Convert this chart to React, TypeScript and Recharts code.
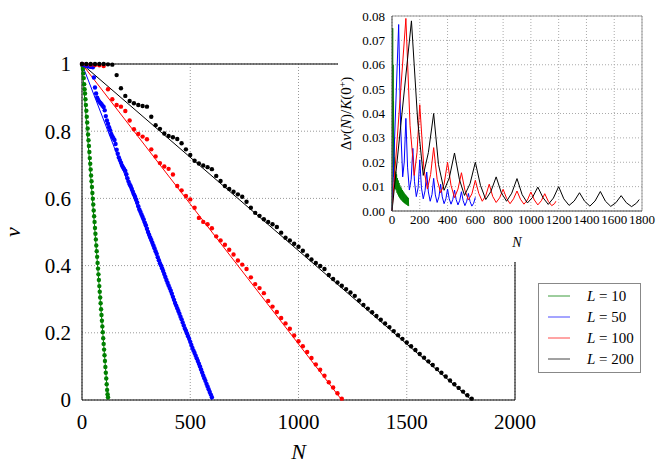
import React from 'react';
import {
  ComposedChart,
  LineChart,
  Line,
  Scatter,
  XAxis,
  YAxis,
  CartesianGrid,
  ReferenceLine,
  Legend,
  Label,
} from 'recharts';

const FONT = "'Liberation Serif', 'Times New Roman', serif";

// ---- main plot ----
const mainXTicks = [0, 500, 1000, 1500, 2000];
const mainYTicks = [0, 0.2, 0.4, 0.6, 0.8, 1];

const seriesL = [10, 50, 100, 200];
const seriesColor = ['#008000', '#0000ff', '#ff0000', '#000000'];
const legendColor = ['#3c9c3c', '#4a4aff', '#ff4a4a', '#444444'];
// N at which the fitted straight line reaches v = 0
const fitEnd = [120, 600, 1200, 1800];

// measured points, sampled every `step` in N starting at N = 0
const greenStep = 2;
const greenDots = [
  1.0, 0.995, 0.985, 0.972, 0.958, 0.94, 0.925, 0.912, 0.895, 0.878, 0.861, 0.843, 0.826, 0.808, 0.79,
  0.773, 0.756, 0.738, 0.72, 0.703, 0.686, 0.668, 0.651, 0.634, 0.616, 0.599, 0.582, 0.564, 0.547, 0.53,
  0.512, 0.495, 0.478, 0.46, 0.443, 0.426, 0.408, 0.391, 0.374, 0.357, 0.339, 0.322, 0.305, 0.288, 0.27,
  0.253, 0.236, 0.219, 0.202, 0.184, 0.167, 0.15, 0.133, 0.116, 0.098, 0.081, 0.064, 0.047, 0.03, 0.017,
  0.008,
];

const blueStep = 5;
const blueDots = [
  1.0, 0.998, 0.997, 0.996, 0.995, 0.994, 0.993, 0.993, 0.992, 0.992, 0.99, 0.96, 0.93, 0.912, 0.9,
  0.893, 0.888, 0.884, 0.88, 0.876, 0.872, 0.862, 0.845, 0.832, 0.822, 0.812, 0.803, 0.792, 0.785, 0.779,
  0.774, 0.762, 0.745, 0.733, 0.722, 0.714, 0.706, 0.698, 0.692, 0.687, 0.682, 0.672, 0.66, 0.65, 0.642,
  0.636, 0.628, 0.62, 0.612, 0.605, 0.597, 0.588, 0.577, 0.567, 0.56, 0.552, 0.545, 0.537, 0.528, 0.52,
  0.51, 0.5, 0.492, 0.484, 0.476, 0.468, 0.46, 0.452, 0.443, 0.435, 0.425, 0.416, 0.407, 0.4, 0.392,
  0.384, 0.375, 0.366, 0.357, 0.349, 0.341, 0.333, 0.325, 0.316, 0.307, 0.298, 0.289, 0.281, 0.273, 0.265,
  0.257, 0.248, 0.24, 0.231, 0.222, 0.213, 0.206, 0.198, 0.19, 0.182, 0.173, 0.164, 0.155, 0.147, 0.14,
  0.132, 0.124, 0.116, 0.108, 0.1, 0.091, 0.082, 0.073, 0.065, 0.057, 0.048, 0.04, 0.032, 0.024, 0.016,
  0.008,
];

const redStep = 20;
const redDots = [
  1.0, 0.999, 0.998, 0.997, 0.996, 0.994, 0.925, 0.895, 0.878, 0.873, 0.86, 0.832, 0.806, 0.792, 0.784,
  0.776, 0.746, 0.725, 0.705, 0.695, 0.688, 0.671, 0.637, 0.624, 0.607, 0.597, 0.572, 0.542, 0.53, 0.523,
  0.511, 0.487, 0.475, 0.462, 0.447, 0.433, 0.415, 0.403, 0.39, 0.365, 0.345, 0.333, 0.318, 0.295, 0.278,
  0.262, 0.244, 0.228, 0.212, 0.192, 0.175, 0.16, 0.143, 0.125, 0.106, 0.09, 0.072, 0.053, 0.037, 0.02,
  0.004,
];

const blackStep = 20;
const blackDots = [
  1.0, 1.0, 1.0, 1.0, 1.0, 1.0, 0.999, 0.998, 0.967, 0.928, 0.905, 0.89, 0.883, 0.878, 0.875,
  0.873, 0.843, 0.818, 0.807, 0.793, 0.786, 0.782, 0.777, 0.764, 0.746, 0.729, 0.712, 0.704, 0.698, 0.693,
  0.687, 0.667, 0.652, 0.637, 0.628, 0.62, 0.612, 0.605, 0.59, 0.572, 0.557, 0.548, 0.538, 0.53, 0.523,
  0.515, 0.498, 0.483, 0.475, 0.465, 0.456, 0.444, 0.43, 0.418, 0.408, 0.399, 0.39, 0.372, 0.36, 0.35,
  0.34, 0.33, 0.32, 0.31, 0.296, 0.283, 0.272, 0.261, 0.25, 0.239, 0.228, 0.217, 0.205, 0.193, 0.182,
  0.171, 0.16, 0.149, 0.137, 0.126, 0.115, 0.104, 0.092, 0.081, 0.07, 0.058, 0.047, 0.036, 0.025, 0.014,
  0.004,
];

// ---- inset: [N, Δν/K] ----
const insetXTicks = [0, 200, 400, 600, 800, 1000, 1200, 1400, 1600, 1800];
const insetYTicks = [0, 0.01, 0.02, 0.03, 0.04, 0.05, 0.06, 0.07, 0.08];

const insetGreen = [
  [0, 0], [5, 0.075], [7, 0.03], [8, 0.06], [10, 0.018], [11, 0.045], [13, 0.014], [14, 0.03], [16, 0.012],
  [17, 0.022], [19, 0.01], [21, 0.0165], [24, 0.009], [27, 0.016], [30, 0.0085], [33, 0.015], [36, 0.0075],
  [39, 0.0135], [42, 0.0068], [45, 0.0125], [48, 0.006], [51, 0.0115], [54, 0.0055], [57, 0.0105], [60, 0.005],
  [63, 0.0098], [66, 0.0045], [69, 0.0092], [72, 0.0042], [75, 0.0086], [78, 0.0038], [81, 0.008], [84, 0.0035],
  [87, 0.0075], [90, 0.0032], [93, 0.007], [96, 0.003], [99, 0.0066], [102, 0.0027], [105, 0.0062],
  [108, 0.0025], [111, 0.0058], [114, 0.0022], [117, 0.0054], [120, 0.002],
];

const insetBlue = [
  [0, 0], [48, 0.0765],
  [62, 0.035], [77, 0.014], [88, 0.02], [100, 0.038],
  [112, 0.018], [125, 0.0086], [138, 0.013], [150, 0.0257],
  [162, 0.012], [175, 0.0059], [188, 0.0095], [200, 0.021],
  [212, 0.0095], [225, 0.005], [238, 0.0083], [250, 0.016],
  [262, 0.0078], [275, 0.004], [288, 0.0068], [300, 0.0134],
  [312, 0.0066], [325, 0.0035], [338, 0.0058], [350, 0.011],
  [362, 0.0058], [375, 0.003], [388, 0.005], [400, 0.009],
  [412, 0.005], [425, 0.0028], [438, 0.0048], [450, 0.0086],
  [462, 0.0047], [475, 0.0025], [488, 0.0044], [500, 0.0079],
  [512, 0.0043], [525, 0.0022], [538, 0.004], [550, 0.0072],
  [562, 0.0039], [575, 0.002], [588, 0.0032], [600, 0.0056],
];

const insetRed = [
  [0, 0], [100, 0.079],
  [130, 0.035], [160, 0.0146], [180, 0.024], [200, 0.0436],
  [230, 0.017], [255, 0.009], [278, 0.015], [300, 0.026],
  [325, 0.013], [350, 0.0075], [375, 0.011], [400, 0.02],
  [425, 0.0105], [450, 0.0055], [475, 0.009], [500, 0.0157],
  [525, 0.0085], [550, 0.0045], [575, 0.007], [600, 0.0126],
  [625, 0.0072], [650, 0.004], [675, 0.0063], [700, 0.011],
  [725, 0.006], [750, 0.0035], [775, 0.0054], [800, 0.0089],
  [825, 0.0052], [850, 0.003], [875, 0.005], [900, 0.0082],
  [925, 0.0048], [950, 0.0028], [975, 0.0045], [1000, 0.0078],
  [1025, 0.0045], [1050, 0.0025], [1075, 0.0042], [1100, 0.0071],
  [1125, 0.004], [1150, 0.0022], [1170, 0.003], [1180, 0.004],
];

const insetBlack = [
  [0, 0], [140, 0.078],
  [185, 0.037], [225, 0.0146], [262, 0.024], [300, 0.04],
  [335, 0.019], [375, 0.0085], [412, 0.0135], [450, 0.0238],
  [485, 0.013], [522, 0.0064], [562, 0.0112], [600, 0.02],
  [637, 0.0105], [675, 0.0047], [712, 0.008], [750, 0.014],
  [787, 0.0075], [825, 0.004], [862, 0.0073], [900, 0.0133],
  [937, 0.0067], [975, 0.0033], [1012, 0.0056], [1050, 0.0098],
  [1087, 0.0055], [1125, 0.0027], [1162, 0.0053], [1200, 0.01],
  [1237, 0.005], [1275, 0.0023], [1312, 0.0041], [1350, 0.0075],
  [1387, 0.004], [1425, 0.002], [1462, 0.0041], [1500, 0.008],
  [1537, 0.004], [1575, 0.0019], [1612, 0.0034], [1650, 0.0063],
  [1687, 0.0034], [1725, 0.0018], [1760, 0.0032], [1780, 0.0047],
];

const toPoints = (vals: number[], step: number) => vals.map((v, i) => ({ N: i * step, v }));
const toPairs = (pairs: number[][]) => pairs.map(([N, v]) => ({ N, v }));

const dotSeries = [
  toPoints(greenDots, greenStep),
  toPoints(blueDots, blueStep),
  toPoints(redDots, redStep),
  toPoints(blackDots, blackStep),
];
const fitSeries = fitEnd.map((end) => [
  { N: 0, v: 1 },
  { N: end, v: 0 },
]);
const insetSeries = [insetGreen, insetBlue, insetRed, insetBlack].map(toPairs);

const dotShape = (color: string) => (p: any) => <circle cx={p.cx} cy={p.cy} r={2.2} fill={color} />;

const renderLegend = () => (
  <div
    style={{
      width: 103,
      height: 90,
      boxSizing: 'border-box',
      border: '1px solid #888',
      background: '#fff',
      paddingTop: 1.5,
      fontFamily: FONT,
      fontSize: 15,
      color: '#000',
    }}
  >
    {seriesL.map((L, i) => (
      <div key={L} style={{ height: 21, display: 'flex', alignItems: 'center' }}>
        <svg width={22} height={4} style={{ marginLeft: 9 }}>
          <line x1={0} y1={2} x2={22} y2={2} stroke={legendColor[i]} strokeWidth={1} />
        </svg>
        <span style={{ marginLeft: 17, whiteSpace: 'nowrap' }}>
          <i>L</i> = {L}
        </span>
      </div>
    ))}
  </div>
);

export default function App() {
  return (
    <div
      style={{
        position: 'absolute',
        left: 0,
        top: 0,
        width: 664,
        height: 465,
        background: '#fff',
        fontFamily: FONT,
      }}
    >
      <ComposedChart width={664} height={465} margin={{ top: 64, right: 149, bottom: 0, left: 0 }}>
        <CartesianGrid stroke="#999" strokeDasharray="1 2" />
        <XAxis
          dataKey="N"
          type="number"
          domain={[0, 2000]}
          ticks={mainXTicks}
          height={65}
          tickLine={false}
          tickSize={0}
          tickMargin={14}
          axisLine={{ stroke: '#000' }}
          tick={{ fill: '#000', fontSize: 21, fontFamily: FONT }}
        >
          <Label
            content={({ viewBox }: any) => (
              <text
                x={viewBox.x + viewBox.width / 2}
                y={viewBox.y + 59}
                textAnchor="middle"
                fontFamily={FONT}
                fontStyle="italic"
                fontSize={22}
              >
                N
              </text>
            )}
          />
        </XAxis>
        <YAxis
          dataKey="v"
          type="number"
          domain={[0, 1]}
          ticks={mainYTicks}
          width={82}
          tickLine={false}
          tickSize={0}
          tickMargin={11}
          axisLine={{ stroke: '#000' }}
          tick={{ fill: '#000', fontSize: 21, fontFamily: FONT }}
        >
          <Label
            content={({ viewBox }: any) => {
              const x = viewBox.x + 20;
              const y = viewBox.y + viewBox.height / 2;
              return (
                <text
                  x={x}
                  y={y}
                  transform={`rotate(-90 ${x} ${y})`}
                  textAnchor="middle"
                  fontFamily={FONT}
                  fontStyle="italic"
                  fontSize={22}
                >
                  ν
                </text>
              );
            }}
          />
        </YAxis>
        <ReferenceLine y={1} stroke="#000" />
        <ReferenceLine x={2000} stroke="#000" />
        {fitSeries.map((d, i) => (
          <Line
            key={'fit' + i}
            data={d}
            dataKey="v"
            type="linear"
            stroke={seriesColor[i]}
            strokeWidth={1}
            dot={false}
            isAnimationActive={false}
          />
        ))}
        {dotSeries.map((d, i) => (
          <Scatter
            key={'dots' + i}
            data={d}
            dataKey="v"
            fill={seriesColor[i]}
            shape={dotShape(seriesColor[i])}
            isAnimationActive={false}
          />
        ))}
        <Legend
          layout="vertical"
          align="center"
          verticalAlign="middle"
          content={renderLegend}
          wrapperStyle={{ left: 538, top: 283, width: 103, height: 90 }}
        />
      </ComposedChart>

      <div style={{ position: 'absolute', left: 338, top: 0, width: 326, height: 262, background: '#fff' }}>
        <LineChart width={326} height={262} margin={{ top: 16, right: 22, bottom: 0, left: 0 }}>
          <CartesianGrid stroke="#aaa" strokeDasharray="1 2" />
          <XAxis
            dataKey="N"
            type="number"
            domain={[0, 1800]}
            ticks={insetXTicks}
            interval={0}
            height={51}
            tickLine={false}
            tickSize={0}
            tickMargin={4}
            axisLine={{ stroke: '#444' }}
            tick={{ fill: '#000', fontSize: 13, fontFamily: FONT }}
          >
            <Label
              content={({ viewBox }: any) => (
                <text
                  x={viewBox.x + viewBox.width / 2}
                  y={viewBox.y + 36}
                  textAnchor="middle"
                  fontFamily={FONT}
                  fontStyle="italic"
                  fontSize={14}
                >
                  N
                </text>
              )}
            />
          </XAxis>
          <YAxis
            dataKey="v"
            type="number"
            domain={[0, 0.08]}
            allowDataOverflow
            ticks={insetYTicks}
            interval={0}
            width={54}
            tickLine={false}
            tickSize={0}
            tickMargin={7}
            axisLine={{ stroke: '#444' }}
            tickFormatter={(v: number) => v.toFixed(2)}
            tick={{ fill: '#000', fontSize: 13, fontFamily: FONT }}
          >
            <Label
              content={({ viewBox }: any) => {
                const x = viewBox.x + 13;
                const y = viewBox.y + viewBox.height / 2;
                return (
                  <text
                    x={x}
                    y={y}
                    transform={`rotate(-90 ${x} ${y})`}
                    textAnchor="middle"
                    fontFamily={FONT}
                    fontSize={15}
                  >
                    Δ<tspan fontStyle="italic">ν</tspan>(<tspan fontStyle="italic">N</tspan>)/
                    <tspan fontStyle="italic">K</tspan>(0
                    <tspan dy={-5} fontSize={10}>
                      +
                    </tspan>
                    <tspan dy={5}>)</tspan>
                  </text>
                );
              }}
            />
          </YAxis>
          <ReferenceLine y={0.08} stroke="#999" />
          <ReferenceLine x={1800} stroke="#999" />
          {insetSeries.map((d, i) => (
            <Line
              key={'inset' + i}
              data={d}
              dataKey="v"
              type="linear"
              stroke={seriesColor[i]}
              strokeWidth={1}
              dot={false}
              isAnimationActive={false}
            />
          ))}
        </LineChart>
      </div>
    </div>
  );
}
